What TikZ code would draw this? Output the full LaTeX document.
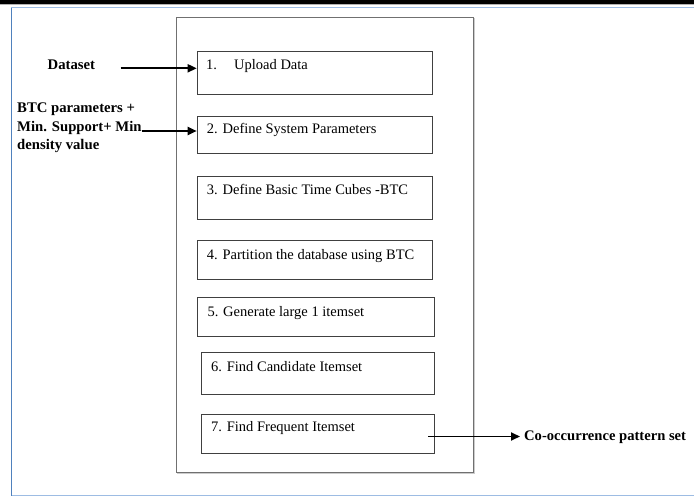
\documentclass[tikz,border=0pt]{standalone}
\usepackage{fontspec}
\setmainfont{Liberation Serif}
\usetikzlibrary{arrows.meta}
\definecolor{boxgray}{HTML}{404040}
\definecolor{outergray}{HTML}{707070}
\definecolor{framelight}{HTML}{9DBCE3}
\definecolor{framedark}{HTML}{4F81BD}
\tikzset{
  stepbox/.style={draw=boxgray, line width=0.9pt, inner sep=0pt},
  steptext/.style={anchor=base west, inner sep=0pt, font=\fontsize{14.5}{17}\selectfont},
  sidelabel/.style={anchor=base west, inner sep=0pt, font=\fontsize{14.7}{18.5}\selectfont\bfseries},
  flow/.style={line width=1.9pt, -{Triangle[length=9pt,width=8pt]}}
}
\begin{document}
\begin{tikzpicture}[x=1pt,y=-1pt]
\useasboundingbox (0,0) rectangle (694,497);
% top rule
\fill[black] (0,0) rectangle (694,4);
\draw[gray!60, line width=0.6pt] (0,4.6) -- (694,4.6);
% outer frame
\draw[framelight, line width=1pt] (11,8) -- (694,8);
\draw[framelight, line width=1pt] (11,495.5) -- (694,495.5);
\draw[framedark, line width=1pt] (11,8) -- (11,495.5);
% container
\draw[gray!40, line width=1pt] (474,18) -- (474,473) -- (177,473);
\node[draw=outergray, line width=1pt, minimum width=297pt, minimum height=455pt, anchor=north west, inner sep=0pt] (outer) at (176,17) {};
% step boxes
\node[stepbox, minimum width=235pt, minimum height=43pt, anchor=north west] (b1) at (196.7,51) {};
\node[stepbox, minimum width=235pt, minimum height=37pt, anchor=north west] (b2) at (196.7,116) {};
\node[stepbox, minimum width=235pt, minimum height=43pt, anchor=north west] (b3) at (196.7,176) {};
\node[stepbox, minimum width=235pt, minimum height=39pt, anchor=north west] (b4) at (196.7,240) {};
\node[stepbox, minimum width=237pt, minimum height=38.5pt, anchor=north west] (b5) at (196.7,297.3) {};
\node[stepbox, minimum width=233pt, minimum height=42.6pt, anchor=north west] (b6) at (200.7,351.7) {};
\node[stepbox, minimum width=233pt, minimum height=38.7pt, anchor=north west] (b7) at (200.7,414) {};
% step texts
\node[steptext] (t1a) at (206,69.3) {1.};
\node[steptext] (t1b) at (234,69.3) {Upload Data};
\node[steptext] (t2) at (206.7,134) {2. Define System Parameters};
\node[steptext] (t3) at (206.7,194.3) {3. Define Basic Time Cubes -BTC};
\node[steptext] (t4) at (206.7,259.3) {4. Partition the database using BTC};
\node[steptext] (t5) at (207.3,316.7) {5. Generate large 1 itemset};
\node[steptext] (t6) at (211,371) {6. Find Candidate Itemset};
\node[steptext] (t7) at (211,431.7) {7. Find Frequent Itemset};
% side labels
\node[sidelabel] (ds) at (47.5,69.3) {Dataset};
\node[sidelabel] (p1) at (17,112.7) {BTC parameters +};
\node[sidelabel] (p2) at (17,131.3) {Min. Support+ Min};
\node[sidelabel] (p3) at (17,149.5) {density value};
\node[sidelabel, font=\fontsize{14.6}{18}\selectfont\bfseries] (co) at (524,440) {Co-occurrence pattern set};
% arrows
\coordinate (s1) at (120.5,68.3);
\coordinate (s2) at (141.5,131);
\coordinate (s3) at (428,436.5);
\coordinate (e3) at (520,436.5);
\draw[flow] (s1) -- (s1 -| b1.west);
\draw[flow] (s2) -- (s2 -| b2.west);
\draw[flow] (s3) -- (e3);
\end{tikzpicture}
\end{document}
